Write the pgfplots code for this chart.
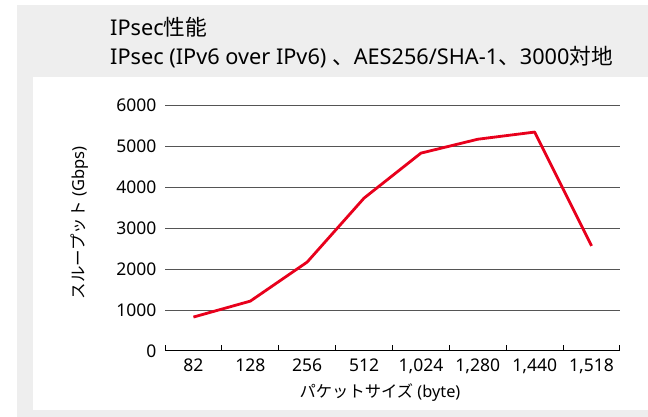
\documentclass[border=0pt]{standalone}
\usepackage{pgfplots}
\pgfplotsset{compat=1.18}
\usepackage{fontspec}
\setmainfont{Noto Sans}
\newfontfamily\jp{Noto Sans CJK JP}
\definecolor{bg}{HTML}{EEEEEE}
\definecolor{lred}{HTML}{E8001C}
\definecolor{gridc}{HTML}{555555}
\begin{document}
\begin{tikzpicture}[x=1pt,y=1pt]
\fill[white] (0,0) rectangle (648,417);
\fill[bg] (16.7,0) rectangle (648,412);
\fill[white] (33,7) rectangle (648,340);
\node[anchor=base west, font=\fontsize{21.7}{26}\selectfont, inner sep=0] at (110,381) {IPsec{\jp 性能}};
\node[anchor=base west, font=\fontsize{21.7}{26}\selectfont, inner sep=0] at (110,352) {IPsec (IPv6 over IPv6) {\jp 、}AES256/SHA-1{\jp 、}3000{\jp 対地}};
\node[rotate=90, font=\fontsize{16.5}{18}\selectfont, inner sep=0] at (80,194) {{\jp スループット} (Gbps)};
\node[font=\fontsize{16.3}{18}\selectfont, inner sep=0] at (380,24) {{\jp パケットサイズ} (byte)};
\begin{axis}[
  at={(165pt,66pt)}, anchor=south west,
  scale only axis, width=455pt, height=245.3pt,
  xmin=-0.5, xmax=7.5, ymin=0, ymax=6000,
  axis x line*=bottom, axis y line*=left,
  y axis line style={draw=none},
  x axis line style={black, line width=1pt},
  xtick={0,...,7},
  xticklabels={82,128,256,512,{1,024},{1,280},{1,440},{1,518}},
  minor xtick={-0.5,0.5,...,7.5},
  major tick length=0pt, minor tick length=6pt, tick align=inside,
  minor x tick style={black, line width=1pt},
  major x tick style={draw=none},
  ytick={0,1000,...,6000},
  ytick style={draw=none},
  ymajorgrids, grid style={gridc, line width=1pt},
  scaled y ticks=false,
  /pgf/number format/1000 sep={},
  /pgf/number format/assume math mode=true,
  ticklabel style={font=\fontsize{17.5}{20}\selectfont},
  yticklabel style={xshift=-5pt},
  xticklabel style={yshift=-4pt},
]
\addplot[lred, line width=2.8pt, line join=round] coordinates {(0,830)(1,1220)(2,2175)(3,3740)(4,4840)(5,5180)(6,5355)(7,2570)};
\end{axis}
\pgfresetboundingbox
\path (0,0) rectangle (648,417);
\end{tikzpicture}
\end{document}
